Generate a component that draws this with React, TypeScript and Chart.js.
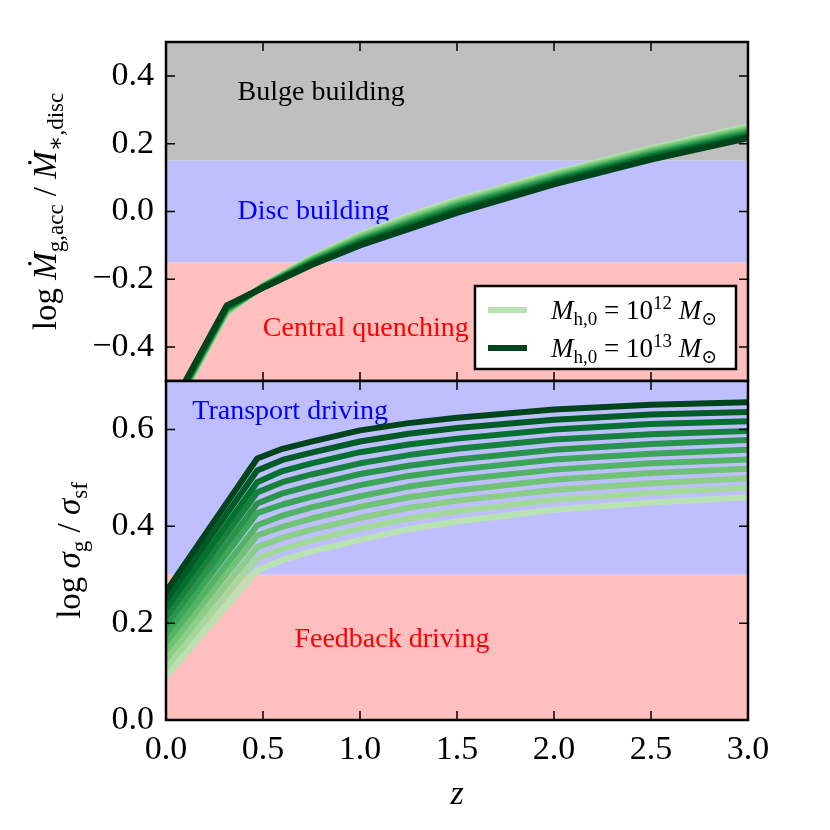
import { useEffect, useRef } from "react";
import { Chart, registerables } from "chart.js";

Chart.register(...registerables);

const FONT = "'Liberation Serif', 'DejaVu Serif', serif";

// redshift grids of the two panels
const zAcc = [0, 0.313, 0.5, 0.75, 1.0, 1.25, 1.5, 2.0, 2.5, 3.0];
const zSig = [0, 0.47, 0.6, 0.75, 1.0, 1.25, 1.5, 2.0, 2.5, 3.0];

// log halo mass at z=0 of each track, 10^12 .. 10^13
const logMh = [12.0, 12.1, 12.2, 12.3, 12.4, 12.5, 12.6, 12.7, 12.8, 12.9, 13.0];

// top panel: log Mdot_g,acc / Mdot_*,disc
const acc120 = [-0.630, -0.300, -0.218, -0.135, -0.068, -0.013, 0.035, 0.114, 0.187, 0.252];
const acc121 = [-0.628, -0.298, -0.219, -0.137, -0.071, -0.017, 0.031, 0.111, 0.184, 0.248];
const acc122 = [-0.625, -0.295, -0.219, -0.140, -0.074, -0.021, 0.027, 0.107, 0.180, 0.245];
const acc123 = [-0.623, -0.293, -0.220, -0.142, -0.078, -0.025, 0.023, 0.104, 0.177, 0.241];
const acc124 = [-0.620, -0.291, -0.221, -0.144, -0.081, -0.029, 0.019, 0.100, 0.173, 0.238];
const acc125 = [-0.618, -0.289, -0.222, -0.147, -0.084, -0.033, 0.016, 0.097, 0.170, 0.234];
const acc126 = [-0.615, -0.286, -0.222, -0.149, -0.087, -0.036, 0.012, 0.094, 0.167, 0.230];
const acc127 = [-0.613, -0.284, -0.223, -0.151, -0.090, -0.040, 0.008, 0.090, 0.163, 0.227];
const acc128 = [-0.610, -0.282, -0.224, -0.153, -0.094, -0.044, 0.004, 0.087, 0.160, 0.223];
const acc129 = [-0.608, -0.279, -0.224, -0.156, -0.097, -0.048, 0.000, 0.083, 0.156, 0.220];
const acc130 = [-0.605, -0.277, -0.225, -0.158, -0.100, -0.052, -0.004, 0.080, 0.153, 0.216];
const accRows = [acc120, acc121, acc122, acc123, acc124, acc125, acc126, acc127, acc128, acc129, acc130];

// bottom panel: log sigma_g / sigma_sf
const sig120 = [0.090, 0.309, 0.330, 0.348, 0.372, 0.394, 0.410, 0.434, 0.449, 0.460];
const sig121 = [0.108, 0.334, 0.353, 0.371, 0.395, 0.416, 0.431, 0.455, 0.469, 0.480];
const sig122 = [0.126, 0.357, 0.376, 0.393, 0.417, 0.438, 0.453, 0.475, 0.489, 0.499];
const sig123 = [0.143, 0.381, 0.399, 0.416, 0.440, 0.460, 0.474, 0.496, 0.510, 0.519];
const sig124 = [0.161, 0.402, 0.422, 0.439, 0.462, 0.482, 0.496, 0.517, 0.530, 0.538];
const sig125 = [0.178, 0.427, 0.445, 0.461, 0.485, 0.504, 0.517, 0.538, 0.550, 0.558];
const sig126 = [0.196, 0.447, 0.468, 0.484, 0.508, 0.525, 0.538, 0.558, 0.570, 0.578];
const sig127 = [0.213, 0.470, 0.491, 0.507, 0.530, 0.547, 0.560, 0.579, 0.590, 0.597];
const sig128 = [0.230, 0.491, 0.514, 0.530, 0.553, 0.569, 0.581, 0.600, 0.611, 0.617];
const sig129 = [0.248, 0.515, 0.537, 0.552, 0.575, 0.591, 0.603, 0.620, 0.631, 0.636];
const sig130 = [0.265, 0.540, 0.560, 0.575, 0.598, 0.613, 0.624, 0.641, 0.651, 0.656];
const sigRows = [sig120, sig121, sig122, sig123, sig124, sig125, sig126, sig127, sig128, sig129, sig130];

const zTicks = [0, 0.5, 1, 1.5, 2, 2.5, 3];
const accTicks = [-0.4, -0.2, 0, 0.2, 0.4];
const sigTicks = [0, 0.2, 0.4, 0.6];

// regime boundaries (bottom to top) and their names
const accEdges = [-0.5, -0.15, 0.15, 0.5];
const accRegions = ["Central quenching", "Disc building", "Bulge building"];
const sigEdges = [0, 0.3, 0.7];
const sigRegions = ["Feedback driving", "Transport driving"];

// styling
const accRegionStyle = [
  { fill: "#ffbfbf", text: "#ff0000", at: [1.03, -0.347] },
  { fill: "#bfbfff", text: "#0000ff", at: [0.76, 0.0] },
  { fill: "#bfbfbf", text: "#000000", at: [0.8, 0.35] },
];
const sigRegionStyle = [
  { fill: "#ffbfbf", text: "#ff0000", at: [1.165, 0.165] },
  { fill: "#bfbfff", text: "#0000ff", at: [0.64, 0.637] },
];

const GREENS = [
  [247, 252, 245], [229, 245, 224], [199, 233, 192], [161, 217, 155], [116, 196, 118],
  [65, 171, 93], [35, 139, 69], [0, 109, 44], [0, 68, 27],
];
function greens(t: number) {
  const p = t * 8;
  const i = Math.min(7, Math.floor(p));
  const f = p - i;
  const a = GREENS[i], b = GREENS[i + 1];
  return `rgb(${a.map((v, k) => Math.round(v + (b[k] - v) * f)).join(",")})`;
}
const lineColor = (i: number) => greens(0.3 + (0.7 * i) / (logMh.length - 1));

type Run = { t: string; it?: boolean; sub?: boolean; sup?: boolean };

function drawRich(ctx: CanvasRenderingContext2D, runs: Run[], x: number, y: number, size: number, center: boolean) {
  const fontOf = (r: Run) => `${r.it ? "italic " : ""}${r.sub || r.sup ? Math.round(size * 0.7) : size}px ${FONT}`;
  let w = 0;
  runs.forEach((r) => { ctx.font = fontOf(r); w += ctx.measureText(r.t).width; });
  let cx = center ? x - w / 2 : x;
  ctx.textAlign = "left";
  ctx.textBaseline = "alphabetic";
  runs.forEach((r) => {
    ctx.font = fontOf(r);
    const dy = r.sub ? size * 0.22 : r.sup ? -size * 0.38 : 0;
    ctx.fillText(r.t, cx, y + dy);
    cx += ctx.measureText(r.t).width;
  });
}

const accTitle: Run[] = [
  { t: "log " }, { t: "Ṁ", it: true }, { t: "g,acc", sub: true },
  { t: " / " }, { t: "Ṁ", it: true }, { t: "∗,disc", sub: true },
];
const sigTitle: Run[] = [
  { t: "log " }, { t: "σ", it: true }, { t: "g", sub: true },
  { t: " / " }, { t: "σ", it: true }, { t: "sf", sub: true },
];
const massLabel = (exp: string): Run[] => [
  { t: "M", it: true }, { t: "h,0", sub: true }, { t: " = 10" }, { t: exp, sup: true },
  { t: " M", it: true }, { t: "⊙", sub: true },
];

const fmt = (v: number) => (v < -1e-9 ? "−" : "") + Math.abs(v).toFixed(1);

interface PanelCfg {
  edges: number[];
  regions: string[];
  style: { fill: string; text: string; at: number[] }[];
  yTicks: number[];
  title: Run[];
  titleX: number;
  legend?: boolean;
  xTitleY?: number;
}

function panelPlugin(cfg: PanelCfg) {
  return {
    id: "panel",
    beforeDatasetsDraw(chart: any) {
      const { ctx, chartArea: a, scales } = chart;
      const x = scales.x, y = scales.y;
      ctx.save();
      for (let i = 0; i < cfg.regions.length; i++) {
        const top = y.getPixelForValue(cfg.edges[i + 1]);
        const bot = y.getPixelForValue(cfg.edges[i]);
        ctx.fillStyle = cfg.style[i].fill;
        ctx.fillRect(a.left, top, a.right - a.left, bot - top);
      }
      ctx.font = `28px ${FONT}`;
      ctx.textAlign = "center";
      ctx.textBaseline = "middle";
      cfg.regions.forEach((name, i) => {
        const [zx, vy] = cfg.style[i].at;
        ctx.fillStyle = cfg.style[i].text;
        ctx.fillText(name, x.getPixelForValue(zx), y.getPixelForValue(vy));
      });
      ctx.restore();
    },
    afterDatasetsDraw(chart: any) {
      const { ctx, chartArea: a, scales } = chart;
      const x = scales.x, y = scales.y;
      ctx.save();
      ctx.strokeStyle = "#000";
      ctx.lineWidth = 1.5;
      const tl = 9;
      ctx.beginPath();
      zTicks.forEach((v) => {
        const px = x.getPixelForValue(v);
        ctx.moveTo(px, a.bottom); ctx.lineTo(px, a.bottom - tl);
        ctx.moveTo(px, a.top); ctx.lineTo(px, a.top + tl);
      });
      cfg.yTicks.forEach((v) => {
        const py = y.getPixelForValue(v);
        ctx.moveTo(a.left, py); ctx.lineTo(a.left + tl, py);
        ctx.moveTo(a.right, py); ctx.lineTo(a.right - tl, py);
      });
      ctx.stroke();
      ctx.lineWidth = 2.5;
      ctx.strokeRect(a.left, a.top, a.right - a.left, a.bottom - a.top);

      ctx.fillStyle = "#000";
      ctx.save();
      ctx.translate(cfg.titleX, (a.top + a.bottom) / 2);
      ctx.rotate(-Math.PI / 2);
      drawRich(ctx, cfg.title, 0, 0, 33, true);
      ctx.restore();

      if (cfg.xTitleY !== undefined) {
        ctx.font = `italic 34px ${FONT}`;
        ctx.textAlign = "center";
        ctx.textBaseline = "alphabetic";
        ctx.fillText("z", (a.left + a.right) / 2, cfg.xTitleY);
      }

      if (cfg.legend) {
        const ds = chart.data.datasets;
        const bw = 261, bh = 83;
        const bx = a.right - 12 - bw, by = a.bottom - 12 - bh;
        ctx.fillStyle = "#fff";
        ctx.fillRect(bx, by, bw, bh);
        ctx.strokeStyle = "#000";
        ctx.lineWidth = 2.5;
        ctx.strokeRect(bx, by, bw, bh);
        [0, ds.length - 1].forEach((k, row) => {
          const ly = by + 24 + row * 38;
          ctx.strokeStyle = ds[k].borderColor;
          ctx.lineWidth = 6;
          ctx.beginPath();
          ctx.moveTo(bx + 13, ly); ctx.lineTo(bx + 52, ly);
          ctx.stroke();
          ctx.fillStyle = "#000";
          drawRich(ctx, massLabel(String(Math.round(logMh[k]))), bx + 76, ly + 9, 27, false);
        });
      }
      ctx.restore();
    },
  };
}

function makeDatasets(rows: number[][], zs: number[]) {
  return rows.map((row, i) => ({
    label: `log Mh = ${logMh[i]}`,
    data: row.map((v, k) => ({ x: zs[k], y: v })),
    borderColor: lineColor(i),
    borderWidth: 6,
    borderJoinStyle: "round" as const,
    pointRadius: 0,
    tension: 0,
    clip: 0,
    order: rows.length - 1 - i,
  }));
}

const noPad = (s: any) => { s.paddingTop = 0; s.paddingBottom = 0; s.paddingLeft = 0; s.paddingRight = 0; };

function yScale(min: number, max: number, ticks: number[], width: number) {
  return {
    type: "linear" as const,
    min, max,
    grid: { display: false, drawTicks: false },
    border: { display: false },
    afterBuildTicks: (s: any) => { s.ticks = ticks.map((value) => ({ value })); },
    afterFit: (s: any) => { s.width = width; noPad(s); },
    ticks: { padding: 12, color: "#000", font: { family: FONT, size: 34 }, callback: (v: any) => fmt(Number(v)) },
  };
}

export default function App() {
  const topRef = useRef<HTMLCanvasElement | null>(null);
  const botRef = useRef<HTMLCanvasElement | null>(null);

  useEffect(() => {
    if (!topRef.current || !botRef.current) return;

    const top = new Chart(topRef.current, {
      type: "line",
      data: { datasets: makeDatasets(accRows, zAcc) as any },
      options: {
        animation: false,
        responsive: false,
        layout: { padding: { left: 0, right: 82, top: 42, bottom: 9 } },
        plugins: { legend: { display: false }, tooltip: { enabled: false } },
        scales: {
          x: { type: "linear", min: 0, max: 3, display: false },
          y: yScale(-0.5, 0.5, accTicks, 166) as any,
        },
      },
      plugins: [panelPlugin({ edges: accEdges, regions: accRegions, style: accRegionStyle, yTicks: accTicks, title: accTitle, titleX: 56, legend: true })],
    });

    const bot = new Chart(botRef.current, {
      type: "line",
      data: { datasets: makeDatasets(sigRows, zSig) as any },
      options: {
        animation: false,
        responsive: false,
        layout: { padding: { left: 0, right: 82, top: 9, bottom: 0 } },
        plugins: { legend: { display: false }, tooltip: { enabled: false } },
        scales: {
          x: {
            type: "linear", min: 0, max: 3,
            grid: { display: false, drawTicks: false },
            border: { display: false },
            afterBuildTicks: (s: any) => { s.ticks = zTicks.map((value) => ({ value })); },
            afterFit: (s: any) => { s.height = 110; noPad(s); },
            ticks: { padding: 10, maxRotation: 0, autoSkip: false, color: "#000", font: { family: FONT, size: 34 }, callback: (v: any) => fmt(Number(v)) },
          },
          y: yScale(0, 0.7, sigTicks, 166) as any,
        },
      },
      plugins: [panelPlugin({ edges: sigEdges, regions: sigRegions, style: sigRegionStyle, yTicks: sigTicks, title: sigTitle, titleX: 80, xTitleY: 432 })],
    });

    return () => { top.destroy(); bot.destroy(); };
  }, []);

  return (
    <div style={{ position: "absolute", left: 0, top: 0, width: 830, height: 830, background: "#fff" }}>
      <canvas ref={topRef} width={830} height={390} style={{ position: "absolute", left: 0, top: 0, width: 830, height: 390 }} />
      <canvas ref={botRef} width={830} height={458} style={{ position: "absolute", left: 0, top: 372, width: 830, height: 458 }} />
    </div>
  );
}
